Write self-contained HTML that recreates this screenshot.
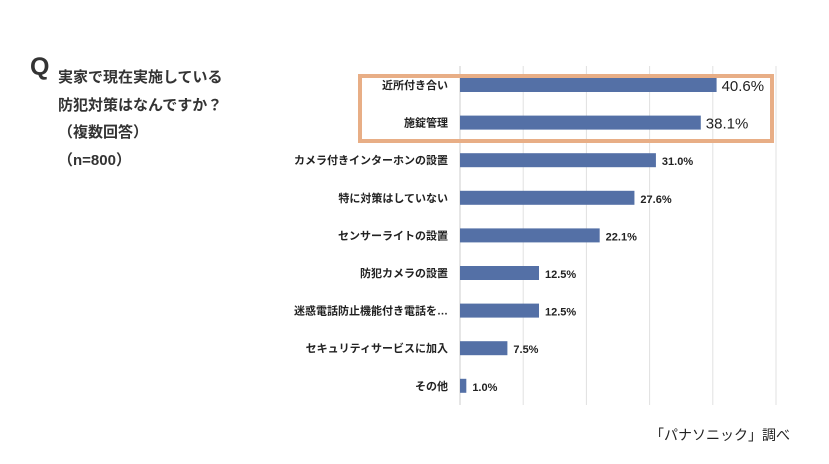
<!DOCTYPE html>
<html><head><meta charset="utf-8"><style>
body{margin:0;width:829px;height:464px;background:#fff;overflow:hidden;font-family:"Liberation Sans","Noto Sans CJK JP",sans-serif;}
.t{position:absolute;color:#333;font-weight:bold;}
</style></head><body>
<div class="t" style="left:30px;top:53px;font-size:25px;">Q</div>
<div class="t" style="left:58px;top:64px;font-size:15px;line-height:27.5px;">実家で現在実施している<br>防犯対策はなんですか？<br>（複数回答）<br>（n=800）</div>
<div style="position:absolute;left:650px;top:425px;font-size:14px;color:#222;">「パナソニック」調べ</div>
<svg id="c" width="829" height="464" style="position:absolute;left:0;top:0"></svg>
<script>
const categories=["近所付き合い","施錠管理","カメラ付きインターホンの設置","特に対策はしていない","センサーライトの設置","防犯カメラの設置","迷惑電話防止機能付き電話を…","セキュリティサービスに加入","その他"];
const values=[40.6,38.1,31.0,27.6,22.1,12.5,12.5,7.5,1.0];
const ticks=[0,10,20,30,40,50];
const svg=document.getElementById('c');const NS="http://www.w3.org/2000/svg";
const x0=460,pxPer=6.32,y0=85,step=37.6,bh=14;
const xs=v=>x0+v*pxPer, ys=i=>y0+i*step;
function mk(t,a){const e=document.createElementNS(NS,t);for(const k in a)e.setAttribute(k,a[k]);svg.appendChild(e);return e;}
ticks.forEach(t=>{const l=mk('line',{x1:xs(t),x2:xs(t),y1:66,y2:405,stroke:t===0?'#ccc':'#e0e0e0','stroke-width':1});

});
categories.forEach((c,i)=>{
const r=mk('rect',{x:x0,y:ys(i)-bh/2,width:values[i]*pxPer,height:bh,fill:'#5470a6'});


const lb=mk('text',{x:448,y:ys(i)+4,'text-anchor':'end','font-size':11,fill:'#222','font-weight':600});lb.textContent=c;


const big=i<2;
const v=mk('text',{x:xs(values[i])+(big?5:6),y:ys(i)+(big?6:5),'font-size':big?15:11,fill:'#222','font-weight':big?'normal':600});v.textContent=values[i].toFixed(1)+'%';


});
const hb=mk('rect',{x:360,y:76,width:412,height:65,fill:'none',stroke:'#e8ae86','stroke-width':4});


</script>
</body></html>
